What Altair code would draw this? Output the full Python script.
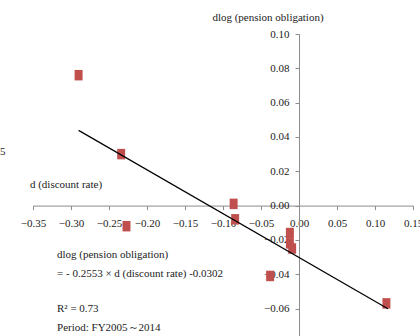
import altair as alt
import pandas as pd

# Year-on-year changes: discount rate (x) vs. log pension obligation (y)
d_rate = [-0.290, -0.234, -0.086, -0.084, -0.227, -0.012, -0.012, -0.009, -0.038, 0.115]
dlog_obl = [0.076, 0.030, 0.001, -0.008, -0.012, -0.016, -0.022, -0.025, -0.041, -0.057]

# Fitted regression
slope = -0.2553
intercept = -0.0302
fit_x = [-0.290, 0.117]

x_ticks = [-0.35, -0.30, -0.25, -0.20, -0.15, -0.10, -0.05, 0.00, 0.05, 0.10, 0.15]
y_ticks = [-0.06, -0.04, -0.02, 0.00, 0.02, 0.04, 0.06, 0.08, 0.10]

X_DOM = [-0.35, 0.15]
Y_DOM = [-0.076, 0.10]
W, H = 380, 302

# Axes cross at the origin
x_axis_offset = -H * (0 - Y_DOM[0]) / (Y_DOM[1] - Y_DOM[0])
y_axis_offset = -W * (0 - X_DOM[0]) / (X_DOM[1] - X_DOM[0])

FONT = "Liberation Serif"

pts = pd.DataFrame({"x": d_rate, "y": dlog_obl})
fit = pd.DataFrame({"x": fit_x})

xs = alt.Scale(domain=X_DOM, nice=False, zero=False)
ys = alt.Scale(domain=Y_DOM, nice=False, zero=False)

x_axis = alt.Axis(values=x_ticks, format=".2f", title=None, grid=False,
                  offset=x_axis_offset, tickSize=4, labelPadding=8,
                  domainColor="#8c8c8c", tickColor="#8c8c8c",
                  labelFont=FONT, labelFontSize=11, labelColor="#222",
                  labelOverlap=False, labelFlush=False, labelBound=False)
y_axis = alt.Axis(values=y_ticks, format=".2f", title=None, grid=False,
                  offset=y_axis_offset, tickSize=4, labelPadding=6,
                  domainColor="#8c8c8c", tickColor="#8c8c8c",
                  labelFont=FONT, labelFontSize=11, labelColor="#222",
                  labelOverlap=False, labelFlush=False, labelBound=False)

X = alt.X("x:Q", scale=xs, axis=x_axis)
Y = alt.Y("y:Q", scale=ys, axis=y_axis)

points = alt.Chart(pts).mark_point(
    shape="M-0.76,-1L0.76,-1L0.76,1L-0.76,1Z", filled=True, size=110,
    color="#C0504D", opacity=1
).encode(x=X, y=Y)

line = alt.Chart(fit).transform_calculate(
    y=f"{slope} * datum.x + ({intercept})"
).mark_line(color="black", strokeWidth=1.2).encode(x=X, y=Y)

notes = pd.DataFrame({
    "x": [-0.0408, -0.354, -0.3184, -0.3184, -0.3184, -0.3184, -0.3934],
    "y": [0.1093, 0.0121, -0.0287, -0.0398, -0.0602, -0.0712, 0.0313],
    "t": ["dlog (pension obligation)", "d (discount rate)",
          "dlog (pension obligation)",
          "= - 0.2553 × d (discount rate) -0.0302",
          "R² = 0.73", "Period: FY2005～2014", "5"],
    "a": ["center", "left", "left", "left", "left", "left", "left"],
})

def note(align):
    return alt.Chart(notes[notes.a == align]).mark_text(
        font=FONT, fontSize=11, color="#222", align=align, baseline="middle"
    ).encode(x=X, y=Y, text="t:N")

chart = alt.layer(points, line, note("center"), note("left")).properties(
    width=W, height=H,
    autosize=alt.AutoSizeParams(type="none"),
    padding={"left": 33, "top": 34, "right": 7, "bottom": 0},
    background="white",
).configure_view(stroke=None)

chart.save("out.html", embed_options={"renderer": "svg", "actions": False})
